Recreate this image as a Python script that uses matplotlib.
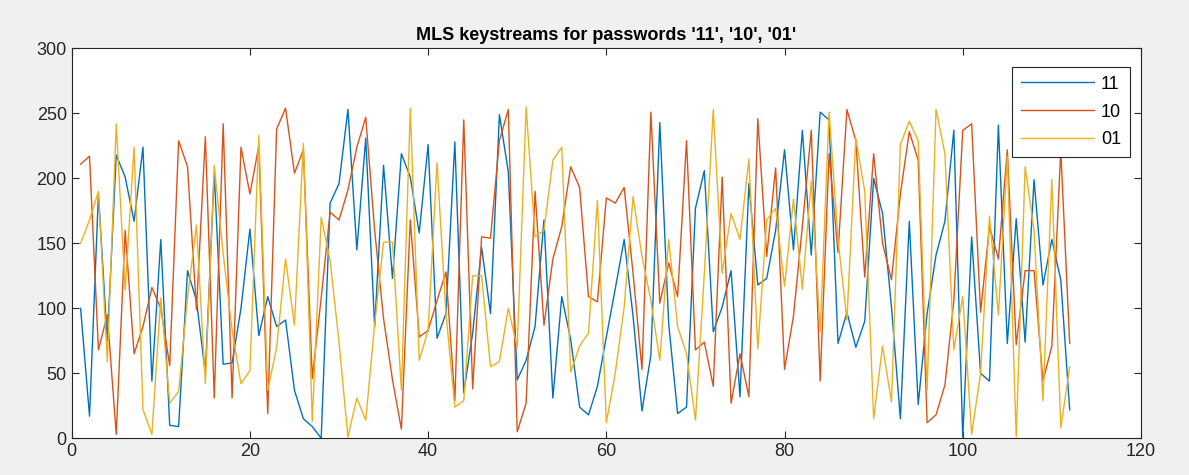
import matplotlib.pyplot as plt
import numpy as np

# Keystream bytes for each password, sample index 1..112
ks_11 = [100, 17, 188, 75, 218, 201, 167, 224, 44, 153,
         10, 9, 129, 106, 50, 204, 57, 58, 100, 161,
         79, 109, 86, 91, 37, 15, 9, 0, 181, 196,
         253, 145, 231, 86, 210, 123, 219, 201, 158, 226,
         77, 96, 228, 35, 81, 147, 96, 249, 205, 45,
         60, 86, 168, 31, 109, 76, 24, 18, 40, 78,
         115, 153, 94, 21, 64, 243, 88, 19, 24, 177,
         206, 82, 101, 129, 32, 196, 118, 123, 160, 222,
         145, 237, 141, 251, 245, 73, 97, 70, 90, 200,
         173, 101, 15, 167, 26, 96, 141, 167, 237, 1,
         155, 50, 44, 241, 73, 169, 74, 199, 118, 153,
         122, 22]
ks_10 = [211, 217, 68, 95, 3, 160, 65, 86, 116, 100,
         56, 229, 209, 99, 232, 31, 242, 31, 224, 188,
         225, 19, 238, 254, 204, 222, 46, 108, 174, 168,
         191, 224, 247, 160, 92, 45, 7, 168, 78, 83,
         106, 128, 29, 245, 38, 155, 154, 229, 253, 5,
         27, 190, 87, 138, 163, 209, 193, 109, 105, 185,
         181, 193, 127, 53, 251, 104, 135, 109, 229, 68,
         74, 40, 201, 27, 65, 32, 246, 140, 208, 53,
         94, 163, 237, 44, 219, 143, 253, 229, 124, 219,
         150, 122, 188, 236, 214, 12, 18, 41, 106, 237,
         242, 97, 163, 138, 222, 72, 129, 129, 44, 71,
         222, 73]
ks_01 = [150, 168, 190, 59, 242, 114, 224, 22, 3, 108,
         27, 36, 108, 164, 42, 210, 142, 83, 42, 52,
         233, 37, 70, 138, 87, 227, 13, 170, 137, 74,
         1, 31, 14, 88, 151, 151, 37, 254, 60, 83,
         212, 96, 24, 29, 125, 125, 55, 59, 100, 70,
         255, 155, 160, 214, 224, 51, 71, 81, 183, 12,
         50, 101, 186, 140, 106, 60, 153, 86, 65, 14,
         127, 253, 127, 173, 153, 215, 69, 168, 177, 117,
         184, 115, 198, 82, 251, 153, 91, 231, 190, 15,
         71, 28, 226, 244, 229, 37, 253, 219, 68, 109,
         3, 50, 171, 95, 217, 1, 209, 160, 29, 199,
         8, 55]
labels = ['11', '10', '01']
colors = ['#0072BD', '#D95319', '#EDB120']

plt.rcParams['font.family'] = ['Liberation Sans', 'DejaVu Sans']

fig = plt.figure(figsize=(11.89, 4.75), dpi=100, facecolor='#f0f0f0')
ax = fig.add_axes([0.0603, 0.0773, 0.8993, 0.8207])

n = np.arange(1, len(ks_11) + 1)
for ks, lab, c in zip([ks_11, ks_10, ks_01], labels, colors):
    ax.plot(n, ks, color=c, lw=1.0, label=lab)

ax.set_xlim(0, 120)
ax.set_ylim(0, 300)
ax.set_xticks(np.arange(0, 121, 20))
ax.set_yticks(np.arange(0, 301, 50))
ax.tick_params(direction='in', top=True, right=True, labelsize=13,
               colors='#262626', length=5, width=0.8)
for s in ax.spines.values():
    s.set_color('#262626')
    s.set_linewidth(0.8)
ax.set_title("MLS keystreams for passwords '11', '10', '01'",
             fontsize=13, fontweight='bold', pad=6)

leg = ax.legend(loc='upper right', bbox_to_anchor=(1130 / 1189, 1 - 66.7 / 475),
                bbox_transform=fig.transFigure, borderaxespad=0,
                fancybox=False, framealpha=1, edgecolor='#262626',
                fontsize=13, handlelength=4.0, labelspacing=0.6,
                handletextpad=0.4, borderpad=0.5)
leg.get_frame().set_linewidth(0.8)

fig.savefig('out.png', dpi=100, facecolor=fig.get_facecolor())
